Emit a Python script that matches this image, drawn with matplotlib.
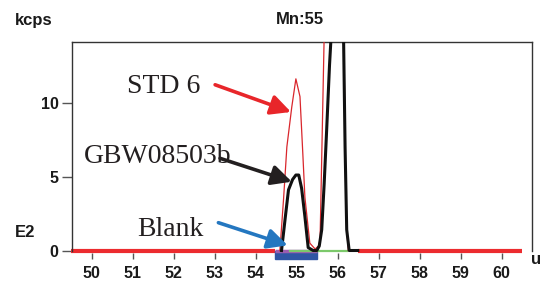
import matplotlib
matplotlib.use('Agg')
import matplotlib.pyplot as plt
from matplotlib.patches import Rectangle

# GBW08503b trace (black), kcps vs u
gbw_x = [54.63, 54.72, 54.80, 54.90, 54.98, 55.05, 55.12, 55.20, 55.28, 55.40, 55.49,
         55.55, 55.61, 55.67, 55.73, 55.80, 55.85, 55.95, 56.05, 56.14, 56.18, 56.22, 56.28, 56.49]
gbw_y = [0.0, 2.2, 4.1, 4.8, 5.1, 5.1, 4.2, 2.3, 0.2, 0.0, 0.0,
         0.3, 1.4, 4.5, 8.1, 12.5, 15.0, 20.0, 20.0, 15.0, 7.0, 1.4, 0.0, 0.0]

# STD 6 trace (thin red)
std_x = [54.59, 54.68, 54.76, 54.88, 54.98, 55.08, 55.15, 55.20, 55.32, 55.45, 55.53,
         55.57, 55.67, 55.80, 56.00, 56.15, 56.19, 56.22, 56.26]
std_y = [0.0, 3.5, 7.0, 9.7, 11.6, 10.4, 6.5, 3.6, 0.5, 0.1, 0.3,
         0.7, 14.5, 25.0, 25.0, 14.5, 5.0, 1.4, 0.0]

# baseline pieces
red_base_left = [49.5, 54.47]
red_base_right = [56.49, 60.49]
blank_range = [54.47, 55.49]
green_range = [54.83, 56.22]

xticks = [50, 51, 52, 53, 54, 55, 56, 57, 58, 59, 60]
yticks = [0, 5, 10]

W, H = 540, 282
fig = plt.figure(figsize=(W / 100, H / 100), dpi=100)
ax = fig.add_axes([71.7 / W, 1 - 252.5 / H, (531.7 - 71.7) / W, (252.5 - 42) / H])
ax.set_xlim(49.512, 60.732)
ax.set_ylim(-0.135, 14.09)

red = '#ec2b2f'
ax.plot(red_base_left, [0, 0], color=red, lw=3, solid_capstyle='butt', clip_on=False, zorder=2)
ax.plot(red_base_right, [0, 0], color=red, lw=3, solid_capstyle='butt', clip_on=False, zorder=2)
ax.add_patch(Rectangle((blank_range[0], -0.56), blank_range[1] - blank_range[0], 0.56,
                       color='#2f55a4', clip_on=False, zorder=2))
ax.plot(blank_range, [0, 0], color='#9a5db0', lw=2.5, solid_capstyle='butt', clip_on=False, zorder=3)
ax.plot(green_range, [0, 0], color='#7cc96b', lw=1.6, clip_on=False, zorder=3)
ax.plot(std_x, std_y, color='#d9262c', lw=0.9, zorder=4)
ax.plot(gbw_x, gbw_y, color='#111111', lw=2.2, zorder=5)

serif = ['Liberation Serif', 'DejaVu Serif']
ax.text(50.86, 10.64, 'STD 6', fontsize=20, family=serif, color='#231f20')
ax.text(49.80, 5.89, 'GBW08503b', fontsize=20, family=serif, color='#231f20')
ax.text(51.10, 0.98, 'Blank', fontsize=20, family=serif, color='#231f20')

arrow_kw = dict(arrowstyle='-|>', lw=2.6, mutation_scale=30, shrinkA=0, shrinkB=0)
ax.annotate('', xy=(54.86, 9.36), xytext=(53.01, 11.2),
            arrowprops=dict(color='#e8262a', **arrow_kw), zorder=6)
ax.annotate('', xy=(54.88, 4.65), xytext=(53.13, 6.23),
            arrowprops=dict(color='#231f20', **arrow_kw), zorder=6)
ax.annotate('', xy=(54.78, 0.35), xytext=(53.09, 1.88),
            arrowprops=dict(color='#2477c0', **arrow_kw), zorder=6)

for s in ['left', 'right', 'top']:
    ax.spines[s].set_color('#333333')
    ax.spines[s].set_linewidth(1.0)
ax.spines['left'].set_bounds(0, 14.09)
ax.spines['right'].set_bounds(0, 14.09)
ax.spines['bottom'].set_visible(False)

ax.set_xticks(xticks)
ax.set_yticks(yticks)
ax.tick_params(axis='x', length=4.5, width=1, color='#555555', pad=5)
ax.tick_params(axis='y', length=7, width=1, color='#555555', pad=2.5)
for lab in ax.get_xticklabels() + ax.get_yticklabels():
    lab.set_fontfamily('Liberation Sans')
    lab.set_fontweight('bold')
    lab.set_fontsize(11.5)
    lab.set_color('#1a1a1a')

sans = dict(family='Liberation Sans', fontweight='bold', fontsize=12, color='#1a1a1a')
fig.text(15 / W, 1 - 20 / H, 'kcps', ha='left', va='center', **sans)
fig.text(300 / W, 1 - 20 / H, 'Mn:55', ha='center', va='center', **sans)
fig.text(15 / W, 1 - 232.5 / H, 'E2', ha='left', va='center', **sans)
fig.text(531 / W, 1 - 260 / H, 'u', ha='left', va='center', **sans)

fig.savefig('out.png', dpi=100)
